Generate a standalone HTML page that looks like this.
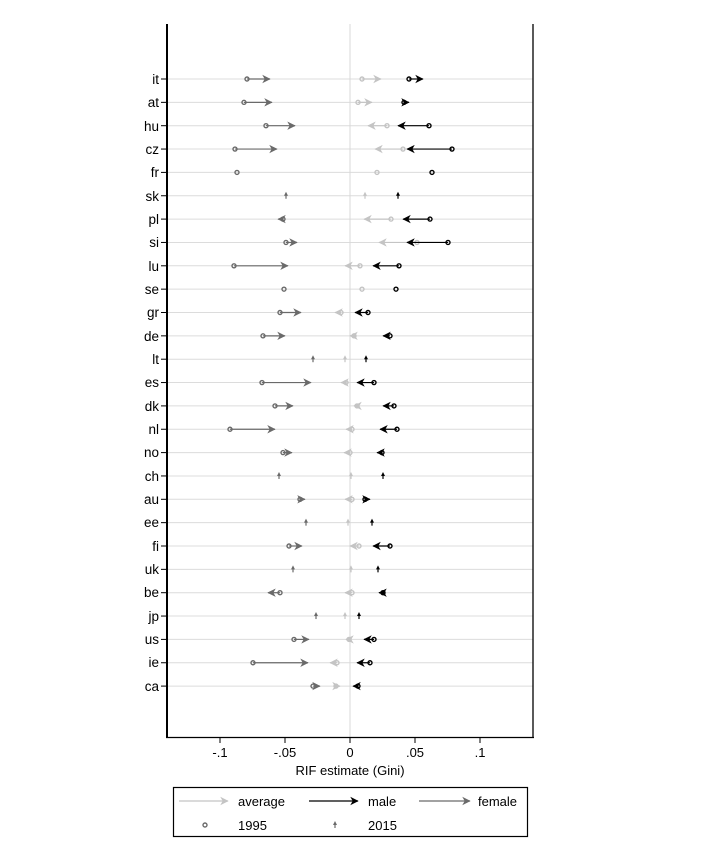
<!DOCTYPE html>
<html><head><meta charset="utf-8"><style>
html,body{margin:0;padding:0;background:#fff;}
svg{display:block;font-family:"Liberation Sans",Arial,sans-serif;}
</style></head><body>
<svg id="s" width="716" height="842" viewBox="0 0 716 842" xmlns="http://www.w3.org/2000/svg">
<rect width="716" height="842" fill="#fff"/>
<g id="grid"></g>
<line x1="350" y1="24" x2="350" y2="737" stroke="#d8d8d8" stroke-width="1"/>
<g id="data"></g>
<line x1="167" y1="24" x2="167" y2="738" stroke="#000" stroke-width="2"/>
<line x1="533" y1="24" x2="533" y2="738" stroke="#000" stroke-width="1.3"/>
<line x1="166" y1="737.5" x2="534" y2="737.5" stroke="#000" stroke-width="1.3"/>
<g stroke="#000" stroke-width="1">
<line x1="220" y1="737" x2="220" y2="743"/><line x1="285" y1="737" x2="285" y2="743"/><line x1="350" y1="737" x2="350" y2="743"/><line x1="415" y1="737" x2="415" y2="743"/><line x1="480" y1="737" x2="480" y2="743"/>
</g>
<g font-size="13" fill="#000" text-anchor="middle">
<text x="220" y="757">-.1</text><text x="285" y="757">-.05</text><text x="350" y="757">0</text><text x="415" y="757">.05</text><text x="480" y="757">.1</text>
<text x="350" y="775">RIF estimate (Gini)</text>
</g>
<g font-size="13.5" fill="#000" text-anchor="end" id="labels">
<text x="159" y="84">it</text><text x="159" y="107">at</text><text x="159" y="131">hu</text><text x="159" y="154">cz</text><text x="159" y="177">fr</text><text x="159" y="201">sk</text><text x="159" y="224">pl</text><text x="159" y="247">si</text><text x="159" y="271">lu</text><text x="159" y="294">se</text><text x="159" y="317">gr</text><text x="159" y="341">de</text><text x="159" y="364">lt</text><text x="159" y="387">es</text><text x="159" y="411">dk</text><text x="159" y="434">nl</text><text x="159" y="457">no</text><text x="159" y="481">ch</text><text x="159" y="504">au</text><text x="159" y="527">ee</text><text x="159" y="551">fi</text><text x="159" y="574">uk</text><text x="159" y="597">be</text><text x="159" y="621">jp</text><text x="159" y="644">us</text><text x="159" y="667">ie</text><text x="159" y="691">ca</text>
</g>
<rect x="173.5" y="787.5" width="354" height="49" fill="none" stroke="#000" stroke-width="1.2"/>
<g font-size="13" fill="#000">
<text x="238" y="806">average</text><text x="368" y="806">male</text><text x="478" y="806">female</text>
<text x="238" y="830">1995</text><text x="368" y="830">2015</text>
</g>
<g id="leg"></g>
</svg>
<script>
var NS="http://www.w3.org/2000/svg";
function el(p,t,a){var e=document.createElementNS(NS,t);for(var k in a)e.setAttribute(k,a[k]);p.appendChild(e);return e;}
var grid=document.getElementById('grid'),data=document.getElementById('data'),leg=document.getElementById('leg');
var CF="#6a6a6a",CA="#c4c4c4",CM="#000";
function head(p,x,y,dir,c){var d=dir>=0?1:-1;
 el(p,'path',{d:'M'+x+' '+y+' L'+(x-7*d)+' '+(y-3.5)+' L'+(x-5*d)+' '+y+' L'+(x-7*d)+' '+(y+3.5)+' Z',fill:c,stroke:c,'stroke-width':0.6});}
function dot(p,x,y,c){el(p,'circle',{cx:x,cy:y,r:2,fill:'none',stroke:c,'stroke-width':1.4});}
function arrow(p,x1,x2,y,c){
 if(x2===null){dot(p,x1,y,c);return;}
 if(Math.abs(x2-x1)<1.5){
  el(p,'line',{x1:x1,y1:y+3,x2:x1,y2:y-2,stroke:c,'stroke-width':1.2});
  el(p,'path',{d:'M'+x1+' '+(y-4)+' L'+(x1-2)+' '+(y)+' L'+(x1+2)+' '+y+' Z',fill:c});
  return;}
 el(p,'line',{x1:x1,y1:y,x2:x2,y2:y,stroke:c,'stroke-width':1.2});
 head(p,x2,y,x2-x1,c);dot(p,x1,y,c);}
var rows=[
[[247,270],[362,381],[409,423]],
[[244,272],[358,372],[404,409]],
[[266,295],[387,368],[429,398]],
[[235,277],[403,375],[452,407]],
[[237,null],[377,null],[432,null]],
[[286,286],[365,365],[398,398]],
[[283,278],[391,364],[430,403]],
[[286,297],[417,379],[448,407]],
[[234,288],[360,345],[399,373]],
[[284,null],[362,null],[396,null]],
[[280,301],[341,335],[368,355]],
[[263,285],[354,350],[390,383]],
[[313,313],[345,345],[366,366]],
[[262,311],[346,341],[374,357]],
[[275,293],[357,354],[394,383]],
[[230,275],[352,346],[397,380]],
[[283,292],[350,344],[382,377]],
[[279,279],[351,351],[383,383]],
[[300,305],[352,345],[365,370]],
[[306,306],[348,348],[372,372]],
[[289,302],[359,350],[390,373]],
[[293,293],[351,351],[378,378]],
[[280,268],[352,345],[383,379]],
[[316,316],[345,345],[359,359]],
[[294,309],[349,346],[374,364]],
[[253,308],[337,330],[370,357]],
[[313,320],[336,340],[358,353]]];
for(var i=0;i<rows.length;i++){var y=79+i*23.35;
 el(grid,'line',{x1:167,y1:y,x2:533,y2:y,stroke:'#dcdcdc','stroke-width':1});
 el(grid,'line',{x1:161,y1:y,x2:167,y2:y,stroke:'#000','stroke-width':1});
 var r=rows[i];arrow(data,r[1][0],r[1][1],y,CA);arrow(data,r[2][0],r[2][1],y,CM);arrow(data,r[0][0],r[0][1],y,CF);}
function legArrow(x1,x2,y,c){el(leg,'line',{x1:x1,y1:y,x2:x2,y2:y,stroke:c,'stroke-width':1.2});head(leg,x2,y,1,c);}
legArrow(179,228,801,CA);legArrow(309,358,801,CM);legArrow(419,470,801,CF);
dot(leg,205,825,CF);
el(leg,'line',{x1:335,y1:828,x2:335,y2:823,stroke:CF,'stroke-width':1.2});
el(leg,'path',{d:'M335 821 L333 825 L337 825 Z',fill:CF});
</script>
</body></html>
